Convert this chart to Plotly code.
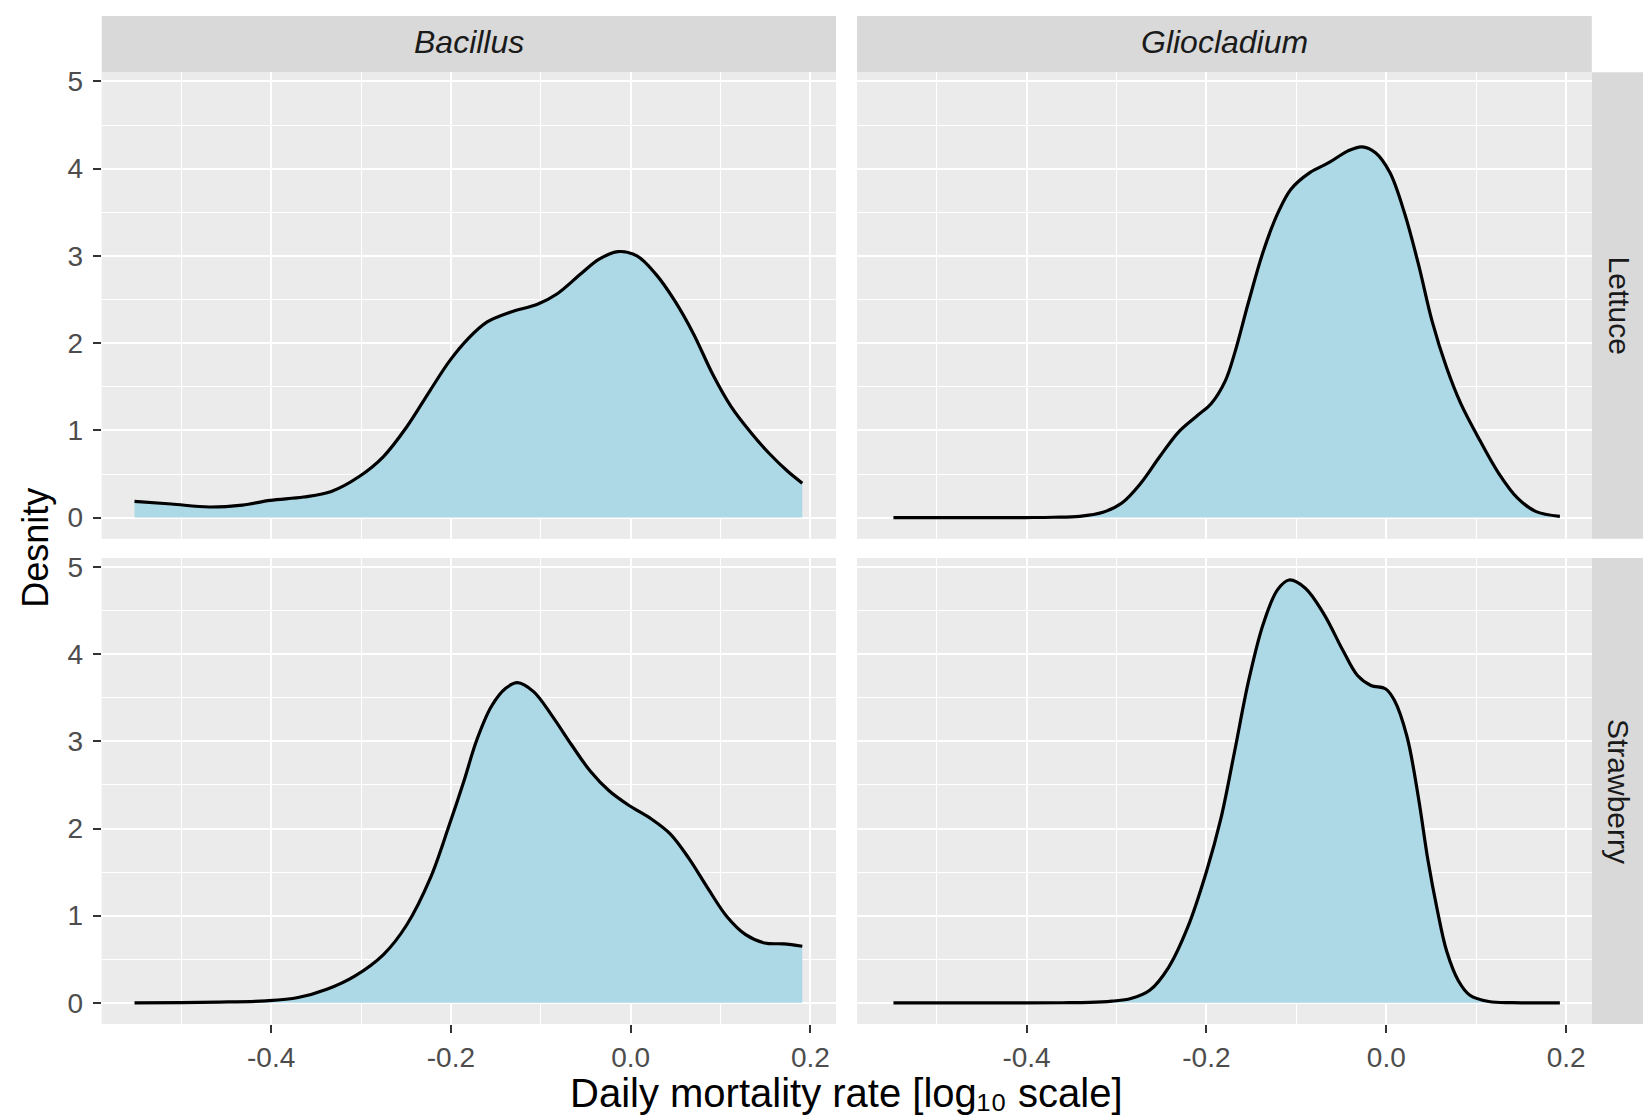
import plotly.graph_objects as go

# ---------------- data ----------------
bac_let_x = [-0.552, -0.511, -0.469, -0.432, -0.401, -0.364, -0.333, -0.302, -0.275, -0.249,
             -0.223, -0.201, -0.181, -0.160, -0.134, -0.103, -0.082, -0.055, -0.035, -0.014,
             0.007, 0.028, 0.049, 0.070, 0.091, 0.112, 0.133, 0.154, 0.175, 0.191]
bac_let_y = [0.186, 0.156, 0.122, 0.144, 0.198, 0.236, 0.300, 0.471, 0.700, 1.042,
             1.460, 1.802, 2.049, 2.240, 2.354, 2.449, 2.563, 2.798, 2.962, 3.049,
             3.000, 2.791, 2.487, 2.106, 1.650, 1.270, 0.985, 0.738, 0.529, 0.395]

glio_let_x = [-0.548, -0.500, -0.450, -0.400, -0.370, -0.341, -0.315, -0.294, -0.273, -0.252,
              -0.231, -0.210, -0.195, -0.179, -0.169, -0.153, -0.137, -0.121, -0.106, -0.085,
              -0.064, -0.043, -0.027, -0.012, 0.004, 0.020, 0.036, 0.051, 0.067, 0.083,
              0.104, 0.125, 0.146, 0.166, 0.193]
glio_let_y = [0.0, 0.0, 0.0, 0.001, 0.004, 0.015, 0.061, 0.167, 0.394, 0.697,
              0.981, 1.170, 1.303, 1.568, 1.871, 2.477, 3.045, 3.481, 3.765, 3.955,
              4.068, 4.201, 4.250, 4.182, 3.955, 3.500, 2.894, 2.250, 1.720, 1.303,
              0.886, 0.508, 0.223, 0.072, 0.015]

bac_str_x = [-0.552, -0.500, -0.459, -0.406, -0.370, -0.338, -0.307, -0.275, -0.249, -0.223,
             -0.202, -0.186, -0.171, -0.155, -0.139, -0.126, -0.108, -0.087, -0.066, -0.045,
             -0.024, -0.003, 0.023, 0.044, 0.065, 0.086, 0.107, 0.128, 0.149, 0.170, 0.191]
bac_str_y = [0.0, 0.003, 0.008, 0.023, 0.061, 0.156, 0.307, 0.554, 0.896, 1.427,
             2.034, 2.528, 3.021, 3.400, 3.609, 3.674, 3.571, 3.287, 2.964, 2.660,
             2.433, 2.273, 2.110, 1.939, 1.655, 1.313, 0.991, 0.782, 0.687, 0.676, 0.649]

glio_str_x = [-0.548, -0.500, -0.450, -0.400, -0.360, -0.330, -0.305, -0.284, -0.263, -0.242,
              -0.221, -0.200, -0.184, -0.169, -0.153, -0.137, -0.121, -0.108, -0.090, -0.069,
              -0.048, -0.032, -0.017, -0.001, 0.009, 0.023, 0.036, 0.046, 0.057, 0.067,
              0.080, 0.093, 0.114, 0.140, 0.165, 0.193]
glio_str_y = [0.0, 0.0, 0.0, 0.0, 0.001, 0.005, 0.020, 0.049, 0.144, 0.408,
              0.862, 1.505, 2.110, 2.867, 3.699, 4.342, 4.739, 4.852, 4.758, 4.455,
              4.039, 3.756, 3.642, 3.604, 3.472, 3.056, 2.337, 1.657, 1.051, 0.598,
              0.257, 0.087, 0.015, 0.002, 0.0, 0.0]

col_labels = ["Bacillus", "Gliocladium"]
row_labels = ["Lettuce", "Strawberry"]
x_tick_vals = [-0.4, -0.2, 0.0, 0.2]
x_tick_text = ["-0.4", "-0.2", "0.0", "0.2"]
y_tick_vals = [0, 1, 2, 3, 4, 5]
x_title = "Daily mortality rate [log\u2081\u2080 scale]"
y_title = "Desnity"

# ---------------- layout geometry ----------------
W, H = 1643, 1118
FONT = "Liberation Sans, Arial, Helvetica, sans-serif"
col_px = [(101.7, 836.0), (857.0, 1591.8)]
row_px = [(66.7, 535.7), (555.0, 1023.5)]
strip_top = (10.0, 66.7)
strip_right = (1591.8, 1643.0)

def xd(a, b):
    return [a / W, b / W]

def yd(a, b):
    return [1 - b / H, 1 - a / H]

XR = [-0.5885, 0.2285]
YR = [-0.243, 5.104]

panels = [
    (0, 0, bac_let_x, bac_let_y),
    (0, 1, glio_let_x, glio_let_y),
    (1, 0, bac_str_x, bac_str_y),
    (1, 1, glio_str_x, glio_str_y),
]

fig = go.Figure()
layout = dict(
    width=W, height=H, autosize=False,
    margin=dict(l=0, r=0, t=0, b=0),
    paper_bgcolor="white", plot_bgcolor="#EBEBEB",
    showlegend=False,
    font=dict(family=FONT),
)

for i, (r, c, xs, ys) in enumerate(panels):
    n = i + 1
    xa = "xaxis" if n == 1 else f"xaxis{n}"
    ya = "yaxis" if n == 1 else f"yaxis{n}"
    xref = "x" if n == 1 else f"x{n}"
    yref = "y" if n == 1 else f"y{n}"
    fig.add_trace(go.Scatter(
        x=xs, y=ys, xaxis=xref, yaxis=yref, mode="lines",
        line=dict(color="black", width=3.2, shape="spline", smoothing=1.0),
        fill="tozeroy", fillcolor="#ADD8E6", hoverinfo="skip",
    ))
    bottom = (r == 1)
    left = (c == 0)
    layout[xa] = dict(
        domain=xd(*col_px[c]), anchor=yref, range=XR,
        tickmode="array", tickvals=x_tick_vals, ticktext=x_tick_text,
        showticklabels=bottom, ticks="outside" if bottom else "",
        ticklen=8, tickwidth=2.2, tickcolor="#333333",
        tickfont=dict(size=28, color="#4D4D4D", family=FONT),
        ticklabelstandoff=0,
        showgrid=True, gridcolor="white", gridwidth=2.2,
        minor=dict(tickvals=[-0.5, -0.3, -0.1, 0.1], showgrid=True,
                   gridcolor="white", gridwidth=1.1, ticks=""),
        zeroline=False, showline=False, fixedrange=True,
    )
    layout[ya] = dict(
        domain=yd(*row_px[r]), anchor=xref, range=YR,
        tickmode="array", tickvals=y_tick_vals,
        showticklabels=left, ticks="outside" if left else "",
        ticklen=8, tickwidth=2.2, tickcolor="#333333",
        tickfont=dict(size=28, color="#4D4D4D", family=FONT),
        ticklabelstandoff=4,
        showgrid=True, gridcolor="white", gridwidth=2.2,
        minor=dict(tickvals=[0.5, 1.5, 2.5, 3.5, 4.5], showgrid=True,
                   gridcolor="white", gridwidth=1.1, ticks=""),
        zeroline=False, showline=False, fixedrange=True,
    )

shapes = []
annotations = []
# column strips
for c, lab in enumerate(col_labels):
    a, b = col_px[c]
    shapes.append(dict(type="rect", xref="paper", yref="paper",
                       x0=a / W, x1=b / W, y0=1 - strip_top[1] / H, y1=1 - strip_top[0] / H,
                       fillcolor="#D9D9D9", line=dict(width=0), layer="below"))
    annotations.append(dict(text=f"<i>{lab}</i>", xref="paper", yref="paper",
                            x=(a + b) / 2 / W, y=1 - ((strip_top[0] + strip_top[1]) / 2 - 2) / H,
                            xanchor="center", yanchor="middle", showarrow=False,
                            font=dict(size=32, color="#1A1A1A", family=FONT)))
# row strips
for r, lab in enumerate(row_labels):
    a, b = row_px[r]
    shapes.append(dict(type="rect", xref="paper", yref="paper",
                       x0=strip_right[0] / W, x1=strip_right[1] / W, y0=1 - b / H, y1=1 - a / H,
                       fillcolor="#D9D9D9", line=dict(width=0), layer="below"))
    annotations.append(dict(text=lab, xref="paper", yref="paper",
                            x=(strip_right[0] + strip_right[1]) / 2 / W + 0.001,
                            y=1 - (a + b) / 2 / H, textangle=90,
                            xanchor="center", yanchor="middle", showarrow=False,
                            font=dict(size=30, color="#1A1A1A", family=FONT)))
# axis titles
annotations.append(dict(text=x_title, xref="paper", yref="paper",
                        x=(col_px[0][0] + col_px[1][1]) / 2 / W, y=2.0 / H,
                        xanchor="center", yanchor="bottom", showarrow=False,
                        borderpad=0,
                        font=dict(size=40, color="black", family=FONT)))
annotations.append(dict(text=y_title, xref="paper", yref="paper",
                        x=34.6 / W, y=1 - 545 / H, textangle=-90,
                        xanchor="center", yanchor="middle", showarrow=False,
                        font=dict(size=36, color="black", family=FONT)))

layout["shapes"] = shapes
layout["annotations"] = annotations
fig.update_layout(**layout)
fig.write_html("out.html")
